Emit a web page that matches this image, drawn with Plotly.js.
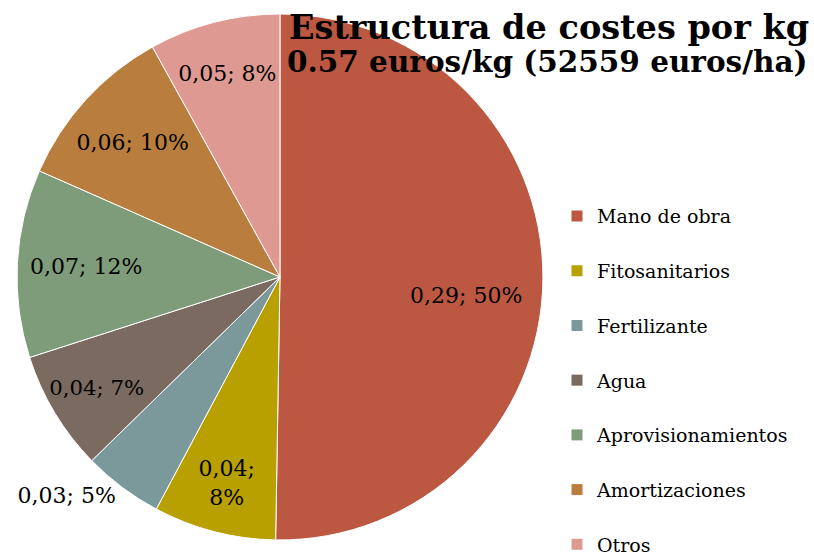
<!DOCTYPE html>
<html>
<head>
<meta charset="utf-8">
<script src="https://cdn.plot.ly/plotly-3.0.1.min.js"></script>
<style>html,body{margin:0;padding:0;background:#fff;}#chart{width:814px;height:554px;}</style>
</head>
<body>
<div id="chart"></div>
<script>
// Data
var categories = ['Mano de obra', 'Fitosanitarios', 'Fertilizante', 'Agua', 'Aprovisionamientos', 'Amortizaciones', 'Otros'];
var costs = [0.287, 0.043, 0.028, 0.042, 0.066, 0.059, 0.046]; // euros/kg
var colors = ['#BC5842', '#B8A000', '#7B999B', '#7A6A60', '#7F9C7A', '#B97D3E', '#DE9A92'];
var titleLine1 = 'Estructura de costes por kg';
var titleLine2 = '0.57 euros/kg (52559 euros/ha)';

var FONT = 'DejaVu Serif, Liberation Serif, serif';
var W = 814, H = 554;
var domX = [0.0209, 0.667], domY = [0.0253, 0.9747];

var total = costs.reduce(function (a, b) { return a + b; }, 0);
function labelText(i, sep) {
  return costs[i].toFixed(2).replace('.', ',') + ';' + sep + Math.round(costs[i] / total * 100) + '%';
}

// Big slice label placed along its bisector (computed from the data)
var bigIdx = 0;
var texts = categories.map(function (c, i) { return labelText(i, i === 1 ? '<br>' : ' '); });
var positions = categories.map(function (c, i) {
  if (i === bigIdx) return 'none';
  return i === 2 ? 'outside' : 'inside';
});

var pie = {
  type: 'pie',
  labels: categories,
  values: costs,
  text: texts,
  textinfo: 'text',
  sort: false,
  direction: 'clockwise',
  rotation: 0,
  marker: { colors: colors, line: { color: '#ffffff', width: 1 } },
  textposition: positions,
  insidetextorientation: 'horizontal',
  textfont: { family: FONT, size: 22, color: '#000' },
  outsidetextfont: { family: FONT, size: 22, color: '#000' },
  insidetextfont: { family: FONT, size: 22, color: '#000' },
  showlegend: false,
  hoverinfo: 'label+value+percent',
  domain: { x: domX, y: domY }
};

// annotation for the large slice along its bisector
var cxPx = W * (domX[0] + domX[1]) / 2, cyPx = H * (1 - (domY[0] + domY[1]) / 2);
var Rpx = Math.min(W * (domX[1] - domX[0]), H * (domY[1] - domY[0])) / 2;
var cum = 0; for (var k = 0; k < bigIdx; k++) cum += costs[k];
var ang = 2 * Math.PI * (cum + costs[bigIdx] / 2) / total + 0.09;
var lx = cxPx + 0.71 * Rpx * Math.sin(ang), ly = cyPx - 0.71 * Rpx * Math.cos(ang);

// Legend entries (one per category), drawn as legend-only square markers
var legendTraces = categories.map(function (c, i) {
  return {
    type: 'scatter', mode: 'markers', x: [null], y: [null],
    name: c, legendgroup: 'g' + i,
    marker: { symbol: 'square', color: colors[i], size: 11 },
    showlegend: true, hoverinfo: 'skip'
  };
});

var layout = {
  width: W, height: H,
  margin: { l: 0, r: 0, t: 0, b: 0, autoexpand: false },
  paper_bgcolor: '#fff', plot_bgcolor: '#fff',
  font: { family: FONT, color: '#000' },
  xaxis: { visible: false }, yaxis: { visible: false },
  annotations: [
    { text: '<b>' + titleLine1 + '</b>', xref: 'paper', yref: 'paper', x: 811 / W, xanchor: 'right',
      y: 1 - 27 / H, yanchor: 'middle', showarrow: false, font: { family: FONT, size: 33.5, color: '#000' } },
    { text: '<b>' + titleLine2 + '</b>', xref: 'paper', yref: 'paper', x: 809 / W, xanchor: 'right',
      y: 1 - 61 / H, yanchor: 'middle', showarrow: false, font: { family: FONT, size: 29.5, color: '#000' } },
    { text: labelText(bigIdx, ' '), xref: 'paper', yref: 'paper', x: lx / W, y: 1 - ly / H,
      xanchor: 'center', yanchor: 'middle', showarrow: false, font: { family: FONT, size: 22, color: '#000' } }
  ],
  legend: {
    x: 557 / W, xanchor: 'left', y: 0.644, yanchor: 'top',
    font: { family: FONT, size: 19, color: '#000' },
    tracegroupgap: 27, traceorder: 'grouped',
    itemclick: false, itemdoubleclick: false,
    bgcolor: 'rgba(0,0,0,0)'
  },
  showlegend: true
};

Plotly.newPlot('chart', [pie].concat(legendTraces), layout, { displayModeBar: false, staticPlot: true });
</script>
</body>
</html>
